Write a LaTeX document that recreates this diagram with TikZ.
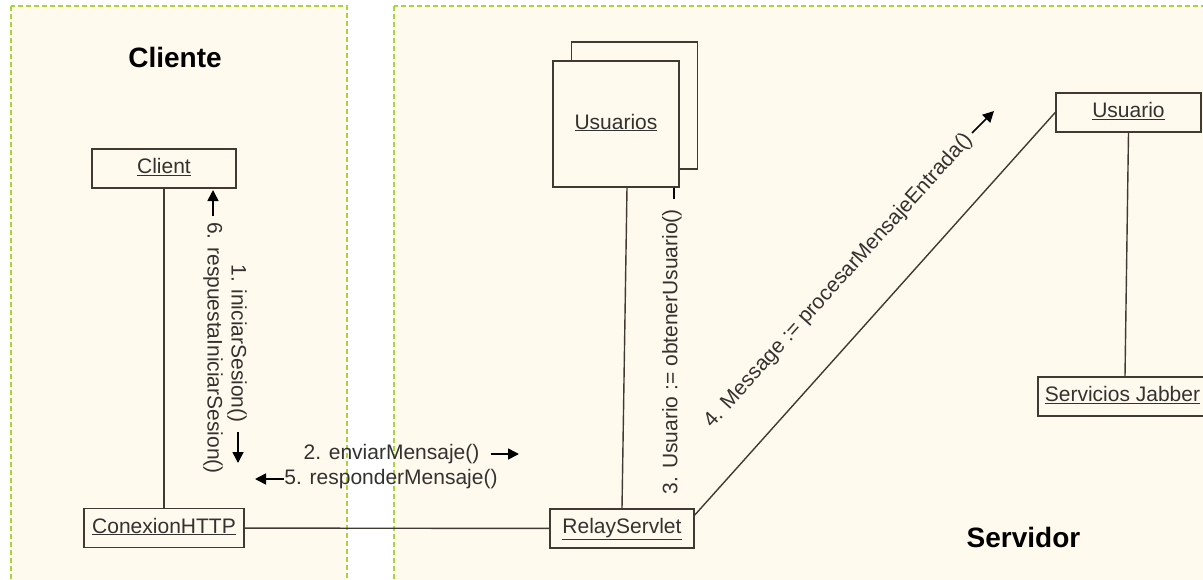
\documentclass[tikz,border=0pt]{standalone}
\usepackage{fontspec}
\setmainfont{Liberation Sans}
\usetikzlibrary{arrows.meta,calc}
\definecolor{cream}{RGB}{255,250,237}
\definecolor{zone}{RGB}{168,212,60}
\definecolor{ink}{RGB}{62,60,50}
\definecolor{txt}{RGB}{50,50,48}

\begin{document}
\begin{tikzpicture}[x=1pt,y=-1pt,
  obj/.style={draw=ink, line width=1.6pt, fill=cream, text=txt,
    font=\fontsize{21}{24}\selectfont, minimum height=39pt, inner sep=0pt,
    text height=15pt, text depth=5pt},
  link/.style={draw=ink, line width=1.4pt},
  msg/.style={text=txt, font=\fontsize{21}{24}\selectfont, inner sep=0pt},
  flow/.style={draw=black, line width=1.6pt, -{Triangle[length=11pt,width=11pt]}},
  zonebox/.style={draw=zone, line width=1.2pt, dash pattern=on 5pt off 3pt, fill=cream},
  title/.style={font=\fontsize{28}{32}\selectfont\bfseries, text=black,
    inner sep=0pt, anchor=base}]
\useasboundingbox (0,0) rectangle (1203,579);
\fill[white] (0,0) rectangle (1203,579);

% client and server zones
\path[zonebox] (11,6) rectangle (347,600);
\path[zonebox] (394,6) rectangle (1230,600);

\node[title] (cliente) at (175,67) {Cliente};
\node[title] (servidor) at (1023.5,547) {Servidor};

% objects
\node[obj, minimum width=144pt] (client) at (164,168.5) {\underline{Client}};
\node[obj, minimum width=160pt] (conn) at (164,528) {\underline{ConexionHTTP}};
\node[obj, minimum width=144pt] (relay) at (622,528.5) {\underline{RelayServlet}};
\node[obj, minimum width=126pt, minimum height=127pt] (usersback) at (634.5,105.5) {};
\node[obj, minimum width=126pt, minimum height=126pt] (users) at (616,124) {\underline{Usuarios}};
\node[obj, minimum width=145pt] (user) at (1128.5,112.5) {\underline{Usuario}};
\node[obj, minimum width=169pt] (jabber) at (1122.5,396.5) {\underline{Servicios Jabber}};

% links
\coordinate (rs) at ([yshift=13.5pt]relay.east);
\coordinate (uw) at (user.west);
\draw[link] (client) -- (conn);
\draw[link] (conn) -- (relay);
\draw[link] ([xshift=11pt]users.south) -- (relay.north);
\draw[link] (rs) -- (uw);
\draw[link] (user.south) -- ([xshift=2.5pt]jabber.north);

% messages
\node[msg, rotate=-90] (m1) at (237,343.5) {1. iniciarSesion()};
\node[msg, rotate=-90] (m6) at (213,348) {6. respuestaIniciarSesion()};
\node[msg] (m2) at (391.5,454) {2. enviarMensaje()};
\node[msg] (m5) at (391,479) {5. responderMensaje()};
\node[msg, rotate=90] (m3) at (672,351.5) {3. Usuario := obtenerUsuario()};
\coordinate (mid) at ($(rs)!0.5!(uw)$);
\node[msg, rotate=47.9] (m4) at ($(mid)!49pt!90:(uw)$) {4. Message := procesarMensajeEntrada()};

% message direction arrows
\coordinate (a1s) at (238,432);  \coordinate (a1e) at (238,463);
\coordinate (a6s) at (213,216);  \coordinate (a6e) at (213,190);
\coordinate (a2s) at (491,454);  \coordinate (a2e) at (519,454);
\coordinate (a5s) at (284,479);  \coordinate (a5e) at (255,479);
\coordinate (a3s) at (674,199);  \coordinate (a3e) at (674,187.5);
\coordinate (a4s) at (972,133);  \coordinate (a4e) at (994,111);
\draw[flow] (a1s) -- (a1e);
\draw[flow] (a6s) -- (a6e);
\draw[flow] (a2s) -- (a2e);
\draw[flow] (a5s) -- (a5e);
\draw[draw=black, line width=1.5pt] (a3s) -- (a3e);
\draw[flow] (a4s) -- (a4e);
\end{tikzpicture}
\end{document}
